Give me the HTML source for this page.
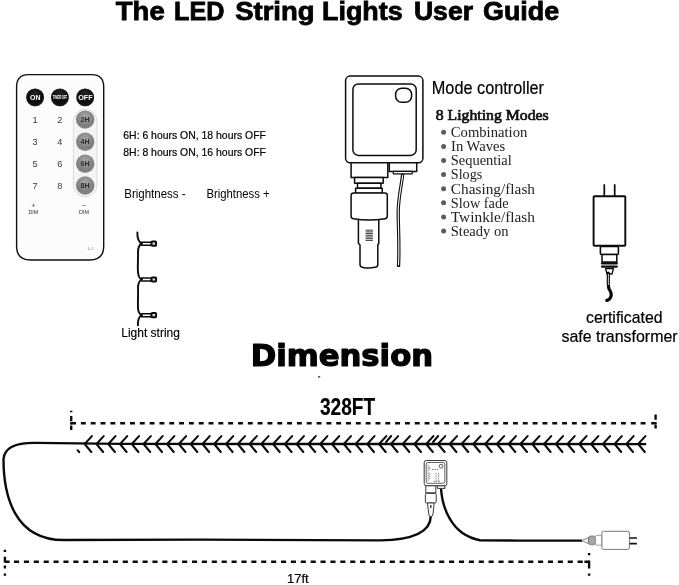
<!DOCTYPE html>
<html>
<head>
<meta charset="utf-8">
<title>The LED String Lights User Guide</title>
<style>
html,body{margin:0;padding:0;background:#fff;}
body{width:679px;height:585px;overflow:hidden;position:relative;}
svg{position:absolute;left:0;top:0;display:block;will-change:transform;}
text{font-family:"Liberation Sans",sans-serif;fill:#000;}
.serif{font-family:"Liberation Serif",serif;}
</style>
</head>
<body>
<svg width="679" height="585" viewBox="0 0 679 585">
<defs>
<radialGradient id="gbtn" cx="0.5" cy="0.35" r="0.7">
<stop offset="0" stop-color="#a8a8a8"/><stop offset="0.7" stop-color="#7d7d7d"/><stop offset="1" stop-color="#8a8a8a"/>
</radialGradient>
<radialGradient id="kbtn" cx="0.5" cy="0.3" r="0.75">
<stop offset="0" stop-color="#262626"/><stop offset="0.6" stop-color="#0c0c0c"/><stop offset="1" stop-color="#1a1a1a"/>
</radialGradient>
<filter id="soft" x="-20%" y="-20%" width="140%" height="140%"><feGaussianBlur stdDeviation="0.5"/></filter>
</defs>
<rect width="679" height="585" fill="#fff"/>

<!-- TITLE -->
<text id="title" y="20" font-size="26" font-weight="bold" stroke="#000" stroke-width="0.8"><tspan x="115.80" textLength="48.90" lengthAdjust="spacingAndGlyphs">The</tspan> <tspan x="174.10" textLength="50.40" lengthAdjust="spacingAndGlyphs">LED</tspan> <tspan x="235.20" textLength="79.40" lengthAdjust="spacingAndGlyphs">String</tspan> <tspan x="322.00" textLength="80.70" lengthAdjust="spacingAndGlyphs">Lights</tspan> <tspan x="413.90" textLength="59.20" lengthAdjust="spacingAndGlyphs">User</tspan> <tspan x="483.00" textLength="76.20" lengthAdjust="spacingAndGlyphs">Guide</tspan></text>

<!-- REMOTE -->
<g id="remote">
<path d="M28.5 74.6 H91.5 Q103.7 74.6 103.7 86.8 V246 Q103.7 260 89.7 260 H30.5 Q16.6 260 16.6 246 V86.8 Q16.6 74.6 28.5 74.6 Z" fill="#fcfcfc" stroke="#111" stroke-width="1.4"/>
<rect x="73.4" y="109.2" width="23.6" height="87.6" rx="11.8" ry="11.8" fill="#f4f4f4" stroke="#d4d4d4" stroke-width="0.8"/>
<g>
<circle cx="35.1" cy="97.6" r="9.2" fill="#ddd" filter="url(#soft)"/>
<circle cx="59.9" cy="97.6" r="9.2" fill="#ddd" filter="url(#soft)"/>
<circle cx="85.2" cy="97.6" r="9.2" fill="#ddd" filter="url(#soft)"/>
<circle cx="35.1" cy="97.4" r="8.9" fill="url(#kbtn)"/>
<circle cx="59.9" cy="97.4" r="8.9" fill="url(#kbtn)"/>
<circle cx="85.2" cy="97.4" r="8.9" fill="url(#kbtn)"/>
<text x="30" y="100" font-size="7.4" font-weight="bold" textLength="10.4" lengthAdjust="spacingAndGlyphs" style="fill:#fff">ON</text>
<text x="52.8" y="99.4" font-size="5.8" font-weight="bold" textLength="14.4" lengthAdjust="spacingAndGlyphs" style="fill:#fff">TIMER OFF</text>
<text x="78.2" y="100" font-size="7.4" font-weight="bold" textLength="14.4" lengthAdjust="spacingAndGlyphs" style="fill:#fff">OFF</text>
</g>
<g>
<circle cx="85.2" cy="119.6" r="9.2" fill="url(#gbtn)" filter="url(#soft)"/>
<circle cx="85.2" cy="141.8" r="9.2" fill="url(#gbtn)" filter="url(#soft)"/>
<circle cx="85.2" cy="163.7" r="9.2" fill="url(#gbtn)" filter="url(#soft)"/>
<circle cx="85.2" cy="185.5" r="9.2" fill="url(#gbtn)" filter="url(#soft)"/>
<g font-size="7.2" font-weight="bold" text-anchor="middle">
<text x="85.2" y="122" style="fill:#2a2a2a">2H</text>
<text x="85.2" y="144" style="fill:#2a2a2a">4H</text>
<text x="85.2" y="166" style="fill:#2a2a2a">6H</text>
<text x="85.2" y="188" style="fill:#2a2a2a">8H</text>
</g>
</g>
<g font-size="9.2" text-anchor="middle">
<text x="35.1" y="123" style="fill:#3a3a3a">1</text>
<text x="59.9" y="123" style="fill:#3a3a3a">2</text>
<text x="35.1" y="145" style="fill:#3a3a3a">3</text>
<text x="59.9" y="145" style="fill:#3a3a3a">4</text>
<text x="35.1" y="167" style="fill:#3a3a3a">5</text>
<text x="59.9" y="167" style="fill:#3a3a3a">6</text>
<text x="35.1" y="189" style="fill:#3a3a3a">7</text>
<text x="59.9" y="189" style="fill:#3a3a3a">8</text>
</g>
<g font-size="5.4" text-anchor="middle">
<text x="33.4" y="208" font-size="6.5" style="fill:#333">+</text>
<text x="33.4" y="214" style="fill:#333">DIM</text>
<text x="84" y="207" font-size="6.5" style="fill:#333">–</text>
<text x="84" y="214" style="fill:#333">DIM</text>
<text x="90.5" y="250" font-size="3.4" style="fill:#888">4+2</text>
</g>
</g>

<!-- INFO TEXT -->
<text x="123.3" y="139" font-size="11" textLength="142.6" lengthAdjust="spacingAndGlyphs" stroke="#000" stroke-width="0.2">6H: 6 hours ON, 18 hours OFF</text>
<text x="123.3" y="156" font-size="11" textLength="142.6" lengthAdjust="spacingAndGlyphs" stroke="#000" stroke-width="0.2">8H: 8 hours ON, 16 hours OFF</text>
<text x="124.3" y="198" font-size="12.5" textLength="61.3" lengthAdjust="spacingAndGlyphs">Brightness -</text>
<text x="206.4" y="198" font-size="12.5" textLength="63.3" lengthAdjust="spacingAndGlyphs">Brightness +</text>

<!-- LIGHT STRING -->
<g id="lightstring" fill="none" stroke="#0a0a0a" stroke-width="1.9" stroke-linecap="round">
<path d="M137.4 232.4 C137.2 237.5 138.6 242 141.8 243.6"/>
<path d="M141.8 243.6 C138.8 245 138 248 138 252 C138.3 260 137.4 266 138 272 C138.2 276 138.8 278.3 141.8 279.5"/>
<path d="M141.8 279.5 C138.8 281 138 284 138 288 C138.4 296 137.6 302 138 308 C138.2 312 138.8 314 141.8 315.2"/>
<path d="M141.8 315.2 C138.8 316.5 137.8 319 137.9 325.2"/>
<path d="M141.5 242.2H151.5V245.2H141.5" stroke-width="1.5"/>
<rect x="151.5" y="241.6" width="4.6" height="4.2" rx="0.8" fill="#ddd" stroke-width="2"/>
<path d="M141.5 278.0H151.5V281.0H141.5" stroke-width="1.5"/>
<rect x="151.5" y="277.4" width="4.6" height="4.2" rx="0.8" fill="#ddd" stroke-width="2"/>
<path d="M141.5 313.7H151.5V316.7H141.5" stroke-width="1.5"/>
<rect x="151.5" y="313.1" width="4.6" height="4.2" rx="0.8" fill="#ddd" stroke-width="2"/>
</g>
<text x="121.3" y="337" font-size="12.5" textLength="58.6" lengthAdjust="spacingAndGlyphs" stroke="#000" stroke-width="0.15">Light string</text>

<!-- MODE CONTROLLER DRAWING -->
<g id="controller" fill="#fff" stroke="#0d0d0d" stroke-width="1.5" stroke-linejoin="round">
<path d="M402.7 174 C401.4 186 398.3 198 398.2 212 C398.2 228 399.6 244 398.5 266.8" fill="none" stroke-width="3.3" stroke-linecap="butt"/>
<path d="M402.7 175 C401.4 186 398.3 198 398.2 212 C398.2 228 399.6 244 398.5 265.3" fill="none" stroke="#fff" stroke-width="1.1"/>
<rect x="345.6" y="76.1" width="77.3" height="86.7" rx="4.5" ry="4.5"/>
<rect x="352.9" y="83.9" width="63.3" height="71.5" rx="5.5" ry="5.5"/>
<rect x="395.6" y="88.3" width="16" height="14" rx="6" ry="6"/>
<rect x="351.1" y="162.8" width="36.7" height="14.6"/>
<rect x="354.6" y="177.4" width="28.6" height="5.8"/>
<rect x="357.5" y="183.2" width="23.4" height="5"/>
<rect x="355.6" y="188.2" width="26.6" height="5"/>
<path d="M358.4 217 V243.3 L360 245 V264.5 Q360 267.2 363 267.4 Q369 268.6 375 267.2 Q377.8 267 377.8 264.5 V245 L378.8 243.3 V217"/>
<path d="M353.6 193 H384.8 Q387.3 193 387.3 195.5 V216 Q387.3 218.5 384.8 218.8 Q369 221.4 353.6 218.8 Q351.1 218.5 351.1 216 V195.5 Q351.1 193 353.6 193 Z"/>
<path d="M365.6 230.2H372.9M365.6 231.9H372.9M365.6 233.6H372.9M365.6 235.3H372.9M365.6 237H372.9M365.6 238.7H372.9M365.6 240.4H372.9" stroke-width="0.9" stroke="#222"/>
<rect x="389.3" y="162.8" width="27.4" height="8.6"/>
<rect x="393.3" y="171.4" width="18.9" height="2.4" stroke-width="1.2"/>
</g>
<text x="431.8" y="94" font-size="18.6" textLength="112.2" lengthAdjust="spacingAndGlyphs" stroke="#000" stroke-width="0.2">Mode controller</text>
<g class="serif">
<text class="serif" x="435.7" y="120" font-size="15" textLength="113" lengthAdjust="spacingAndGlyphs" style="fill:#111" stroke="#111" stroke-width="0.7">8 Lighting Modes</text>
<g font-size="14.2" style="fill:#222">
<text class="serif" x="450.8" y="137" textLength="76.5" lengthAdjust="spacingAndGlyphs" style="fill:#222">Combination</text>
<text class="serif" x="451" y="151" textLength="54.3" lengthAdjust="spacingAndGlyphs" style="fill:#222">In Waves</text>
<text class="serif" x="450.8" y="165" textLength="61" lengthAdjust="spacingAndGlyphs" style="fill:#222">Sequential</text>
<text class="serif" x="450.8" y="179" textLength="31.4" lengthAdjust="spacingAndGlyphs" style="fill:#222">Slogs</text>
<text class="serif" x="450.8" y="194" textLength="84.2" lengthAdjust="spacingAndGlyphs" style="fill:#222">Chasing/flash</text>
<text class="serif" x="450.8" y="208" textLength="57.7" lengthAdjust="spacingAndGlyphs" style="fill:#222">Slow fade</text>
<text class="serif" x="450.8" y="222" textLength="84.2" lengthAdjust="spacingAndGlyphs" style="fill:#222">Twinkle/flash</text>
<text class="serif" x="450.8" y="236" textLength="57.7" lengthAdjust="spacingAndGlyphs" style="fill:#222">Steady on</text>
</g>
<g fill="#5c5c5c">
<circle cx="443.6" cy="132.3" r="2.5"/><circle cx="443.6" cy="146.4" r="2.5"/><circle cx="443.6" cy="160.5" r="2.5"/><circle cx="443.6" cy="174.6" r="2.5"/>
<circle cx="443.6" cy="188.7" r="2.5"/><circle cx="443.6" cy="202.8" r="2.5"/><circle cx="443.6" cy="216.9" r="2.5"/><circle cx="443.6" cy="231" r="2.5"/>
</g>
</g>

<!-- TRANSFORMER -->
<g id="transformer" fill="#fff" stroke="#0a0a0a" stroke-width="1.9" stroke-linejoin="round">
<path d="M604.3 184.2V196M614.7 184.2V196" stroke-width="1.7"/>
<rect x="593.6" y="196.2" width="31.7" height="49.5" rx="0.8"/>
<rect x="600.4" y="246.5" width="18" height="8" rx="1" stroke-width="1.6"/>
<rect x="602" y="254.5" width="14.8" height="7.4" stroke-width="1.5"/>
<path d="M602 263.4H616.8M602 266.6H616.8" stroke-width="2.3" stroke-linecap="round"/>
<path d="M605.6 268.5 L607 274 H612 L613.4 268.5 Z" stroke-width="1.3"/>
<path d="M608.3 273 C608.6 280 607.6 285 609 288.6 C610 291 611.8 292.5 611.2 295.5 C610.6 298.6 608.6 300 606.8 300.4" fill="none" stroke-width="3.2" stroke-linecap="round"/>
<path d="M608.4 274 C608.6 279 608.2 282 608.4 285" fill="none" stroke="#fff" stroke-width="0.8"/>
</g>
<text x="586" y="323" font-size="16.2" textLength="76.5" lengthAdjust="spacingAndGlyphs" stroke="#000" stroke-width="0.2">certificated</text>
<text x="561.4" y="342" font-size="16.2" textLength="116.3" lengthAdjust="spacingAndGlyphs" stroke="#000" stroke-width="0.2">safe transformer</text>

<!-- DIMENSION -->
<text x="250.7" y="366" font-size="29.3" font-weight="bold" textLength="182.4" lengthAdjust="spacingAndGlyphs" style="font-family:'DejaVu Sans','Liberation Sans',sans-serif" stroke="#000" stroke-width="1.2" stroke-linejoin="round">Dimension</text>
<rect x="318" y="376.3" width="2.2" height="1.2" fill="#222"/>
<text x="320" y="415" font-size="23.2" font-weight="bold" textLength="55.2" lengthAdjust="spacingAndGlyphs" stroke="#000" stroke-width="0.15">328FT</text>

<g id="dim" fill="none" stroke="#0a0a0a">
<path d="M80.90 423.3h4.9M90.72 423.3h4.9M100.54 423.3h4.9M110.36 423.3h4.9M120.18 423.3h4.9M130.00 423.3h4.9M139.82 423.3h4.9M149.64 423.3h4.9M159.46 423.3h4.9M169.28 423.3h4.9M179.10 423.3h4.9M188.92 423.3h4.9M198.74 423.3h4.9M208.56 423.3h4.9M218.38 423.3h4.9M228.20 423.3h4.9M238.02 423.3h4.9M247.84 423.3h4.9M257.66 423.3h4.9M267.48 423.3h4.9M277.30 423.3h4.9M287.12 423.3h4.9M296.94 423.3h4.9M306.76 423.3h4.9M316.58 423.3h4.9M326.40 423.3h4.9M336.22 423.3h4.9M346.04 423.3h4.9M355.86 423.3h4.9M365.68 423.3h4.9M375.50 423.3h4.9M385.32 423.3h4.9M395.14 423.3h4.9M404.96 423.3h4.9M414.78 423.3h4.9M424.60 423.3h4.9M434.42 423.3h4.9M444.24 423.3h4.9M454.06 423.3h4.9M463.88 423.3h4.9M473.70 423.3h4.9M483.52 423.3h4.9M493.34 423.3h4.9M503.16 423.3h4.9M512.98 423.3h4.9M522.80 423.3h4.9M532.62 423.3h4.9M542.44 423.3h4.9M552.26 423.3h4.9M562.08 423.3h4.9M571.90 423.3h4.9M581.72 423.3h4.9M591.54 423.3h4.9M601.36 423.3h4.9M611.18 423.3h4.9M621.00 423.3h4.9M630.82 423.3h4.9M640.64 423.3h4.9M71.2 423.3H76M651.2 423.3H655.6" stroke-width="2.4"/>
<path d="M71.2 410.8V412.2M71.2 415.9V421.2M71.2 422.2V424.4M71.2 425.5V429.9" stroke-width="2.4"/>
<path d="M655.6 414.6V419.7M655.6 422.2V424.4M655.6 424.9V428.6" stroke-width="2.4"/>
<path d="M14.00 561.8h5.1M23.89 561.8h5.1M33.78 561.8h5.1M43.66 561.8h5.1M53.55 561.8h5.1M63.44 561.8h5.1M73.33 561.8h5.1M83.22 561.8h5.1M93.10 561.8h5.1M102.99 561.8h5.1M112.88 561.8h5.1M122.77 561.8h5.1M132.66 561.8h5.1M142.54 561.8h5.1M152.43 561.8h5.1M162.32 561.8h5.1M172.21 561.8h5.1M182.10 561.8h5.1M191.98 561.8h5.1M201.87 561.8h5.1M211.76 561.8h5.1M221.65 561.8h5.1M231.54 561.8h5.1M241.42 561.8h5.1M251.31 561.8h5.1M261.20 561.8h5.1M271.09 561.8h5.1M280.98 561.8h5.1M290.86 561.8h5.1M300.75 561.8h5.1M310.64 561.8h5.1M320.53 561.8h5.1M330.42 561.8h5.1M340.30 561.8h5.1M350.19 561.8h5.1M360.08 561.8h5.1M369.97 561.8h5.1M379.86 561.8h5.1M389.74 561.8h5.1M399.63 561.8h5.1M409.52 561.8h5.1M419.41 561.8h5.1M429.30 561.8h5.1M439.18 561.8h5.1M449.07 561.8h5.1M458.96 561.8h5.1M468.85 561.8h5.1M478.74 561.8h5.1M488.62 561.8h5.1M498.51 561.8h5.1M508.40 561.8h5.1M518.29 561.8h5.1M528.18 561.8h5.1M538.06 561.8h5.1M547.95 561.8h5.1M557.84 561.8h5.1M567.73 561.8h5.1M577.62 561.8h5.1M4.9 561.8H9.6M584.4 561.8H589.1" stroke-width="2.4"/>
<path d="M4.9 549.8V552.1M4.9 556.8V562.6M4.9 565.6V568.6M4.9 573.4V575.7" stroke-width="2.4"/>
<path d="M589.1 553V555.2M589.1 560.4V568.5M589.1 573.5V575.8" stroke-width="2.4"/>
<!-- main wire -->
<path id="wire" d="M646.2 444.1 L120 443.9 L36 442.9 C20 442.6 4.5 445 3.5 459 C3.5 495 14 540.1 64 540 L200 539.6 L380 540.4 C405 540 430.6 535 430.8 516" stroke-width="2.4" stroke-linejoin="round"/>
<path d="M441 488.5 C441.6 497 443.5 508 449.6 518.4 C455 528 463 537 480 540.2 L520 540.6 L582 540.6" stroke-width="2.4" stroke-linejoin="round"/>
</g>
<g id="fish" stroke="#0a0a0a" stroke-width="2" fill="none" stroke-linecap="round" stroke-linejoin="round"><path d="M91.9 436.1L84.7 444.0L91.3 452.0M103.7 436.1L96.5 444.0L103.1 452.0M115.5 436.1L108.3 444.0L114.9 452.0M127.2 436.1L120.0 444.0L126.6 452.0M139.0 436.1L131.8 444.0L138.4 452.0M150.8 436.1L143.6 444.0L150.2 452.0M162.6 436.1L155.4 444.0L162.0 452.0M174.3 436.1L167.1 444.0L173.7 452.0M186.1 436.1L178.9 444.0L185.5 452.0M197.9 436.1L190.7 444.0L197.3 452.0M209.7 436.1L202.5 444.0L209.1 452.0M221.4 436.1L214.2 444.0L220.8 452.0M233.2 436.1L226.0 444.0L232.6 452.0M245.0 436.1L237.8 444.0L244.4 452.0M256.8 436.1L249.6 444.0L256.2 452.0M268.5 436.1L261.3 444.0L267.9 452.0M280.3 436.1L273.1 444.0L279.7 452.0M292.1 436.1L284.9 444.0L291.5 452.0M303.9 436.1L296.7 444.0L303.3 452.0M315.7 436.1L308.5 444.0L315.1 452.0M327.4 436.1L320.2 444.0L326.8 452.0M339.2 436.1L332.0 444.0L338.6 452.0M351.0 436.1L343.8 444.0L350.4 452.0M362.8 436.1L355.6 444.0L362.2 452.0M374.5 436.1L367.3 444.0L373.9 452.0M386.3 436.1L379.1 444.0L385.7 452.0M398.1 436.1L390.9 444.0L397.5 452.0M409.9 436.1L402.7 444.0L409.3 452.0M421.6 436.1L414.4 444.0L421.0 452.0M433.4 436.1L426.2 444.0L432.8 452.0M445.2 436.1L438.0 444.0L444.6 452.0M457.0 436.1L449.8 444.0L456.4 452.0M468.8 436.1L461.6 444.0L468.2 452.0M480.5 436.1L473.3 444.0L479.9 452.0M492.3 436.1L485.1 444.0L491.7 452.0M504.1 436.1L496.9 444.0L503.5 452.0M515.9 436.1L508.7 444.0L515.3 452.0M527.6 436.1L520.4 444.0L527.0 452.0M539.4 436.1L532.2 444.0L538.8 452.0M551.2 436.1L544.0 444.0L550.6 452.0M563.0 436.1L555.8 444.0L562.4 452.0M574.7 436.1L567.5 444.0L574.1 452.0M586.5 436.1L579.3 444.0L585.9 452.0M598.3 436.1L591.1 444.0L597.7 452.0M610.1 436.1L602.9 444.0L609.5 452.0M621.8 436.1L614.6 444.0L621.2 452.0M633.6 436.1L626.4 444.0L633.0 452.0M645.4 436.1L638.2 444.0L644.8 452.0M391.1 436.0L386.1 442.0M438.1 436.0L433.1 442.0M77.6 450.2L79.2 452.2"/></g>

<!-- small controller -->
<g fill="#fff" stroke="#3a3a3a" stroke-width="1">
<rect x="424.2" y="460.5" width="22.6" height="25.2" rx="2"/>
<rect x="426.2" y="462.5" width="18.6" height="20.8" rx="1.6" stroke-width="0.8"/>
<circle cx="441" cy="466.2" r="1.9" stroke-width="0.8"/>
<path d="M428.2 465v16M429.8 467v3M429.8 473v6M432 469.5h7M436 473v8M438.6 473v8M433.5 481.4h7" stroke="#555" stroke-width="0.7" stroke-dasharray="1.6 0.8" fill="none"/>
<rect x="425.8" y="485.8" width="10" height="7"/>
<rect x="425.4" y="493.4" width="10.8" height="9.6" rx="1.2"/>
<path d="M427.4 503 L428.8 514 Q429 516.6 430.9 516.6 Q432.8 516.6 433 514 L434.2 503 Z"/>
<path d="M430.8 505v3" stroke="#111" stroke-width="1.2"/>
<rect x="437.6" y="485.8" width="7.2" height="2.6"/>
</g>
<!-- small transformer -->
<g fill="#fff" stroke="#666" stroke-width="0.9">
<path d="M581.5 540.6 L588.8 537.4 V543.8 Z" fill="#eee" stroke="#555" stroke-width="0.7"/>
<rect x="588.6" y="536" width="6.8" height="8.8" rx="2" fill="#a8a8a8" stroke="#777"/>
<rect x="595.6" y="535.4" width="6.4" height="9.8" rx="1" stroke="#999"/>
<rect x="601.9" y="531.3" width="27.5" height="18.1" rx="1.6"/>
<path d="M629.6 538H636.9M629.6 543.6H636.9" stroke="#111" stroke-width="1.7"/>
</g>
<text x="287" y="583" font-size="13.6" stroke="#000" stroke-width="0.2" textLength="21.6" lengthAdjust="spacingAndGlyphs">17ft</text>
</svg>

</body>
</html>
